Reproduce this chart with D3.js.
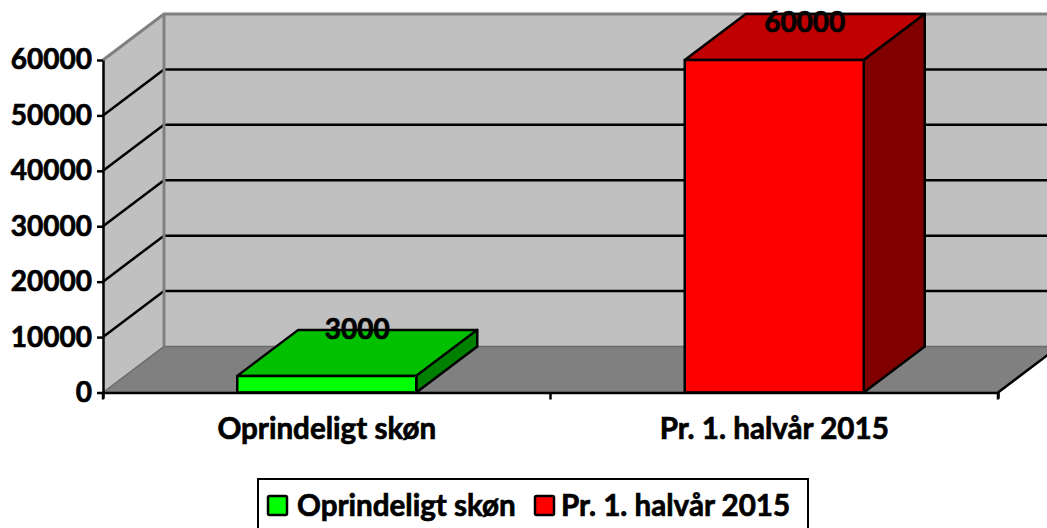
<!DOCTYPE html>
<html>
<head>
<meta charset="utf-8">
<script src="https://cdn.jsdelivr.net/npm/d3@7"></script>
<style>
  html, body { margin: 0; padding: 0; background: #fff; overflow: hidden; }
  text { font-family: Lato, "Open Sans", sans-serif; font-weight: 700; fill: #000; stroke: #000; stroke-width: 0.7px; }
</style>
</head>
<body>
<div id="chart"></div>
<script>
const categories = ['Oprindeligt skøn', 'Pr. 1. halvår 2015']
const values = [3000, 60000]
const yTicks = [0, 10000, 20000, 30000, 40000, 50000, 60000]

const frontColors = ['#00ff00', '#ff0000']
const topColors = ['#00c000', '#c00000']
const sideColors = ['#008000', '#800000']

const width = 1047
const height = 528
const plot = { left: 103, right: 998, top: 60, bottom: 392.5 }
// offset of the back wall from the front plane
const depth = { x: 61, y: -46 }
const numberSize = 28
const labelSize = 29.6

const svg = d3.select('#chart')
  .append('svg')
  .attr('width', width)
  .attr('height', height)
  .style('display', 'block')

const x = d3.scaleBand()
  .domain(categories)
  .range([plot.left, plot.right])
  .paddingInner(0.6)
  .paddingOuter(0.3)

const xAxisScale = d3.scaleBand()
  .domain(categories)
  .range([plot.left, plot.right])

const y = d3.scaleLinear()
  .domain([0, 60000])
  .range([plot.bottom, plot.top])

const poly = pts => pts.map(p => p.join(',')).join(' ')

// walls and floor
const backLeft = plot.left + depth.x
const backRight = plot.right + depth.x

svg.append('polygon')
  .attr('points', poly([
    [plot.left, plot.top], [backLeft, plot.top + depth.y],
    [backLeft, plot.bottom + depth.y], [plot.left, plot.bottom]
  ]))
  .attr('fill', '#c0c0c0')

svg.append('rect')
  .attr('x', backLeft)
  .attr('y', plot.top + depth.y)
  .attr('width', width - backLeft)
  .attr('height', plot.bottom - plot.top)
  .attr('fill', '#c0c0c0')

svg.append('polygon')
  .attr('points', poly([
    [plot.left, plot.bottom], [backLeft, plot.bottom + depth.y],
    [backRight, plot.bottom + depth.y], [plot.right, plot.bottom]
  ]))
  .attr('fill', '#808080')
  .attr('stroke', '#6a6a6a')
  .attr('stroke-width', 1.5)

// gridlines, skipping the top and bottom edges
const grid = svg.append('g')
  .attr('stroke', '#000')
  .attr('stroke-width', 2.5)
  .attr('fill', 'none')

yTicks.filter(t => t > 0 && t < 60000).forEach(t => {
  grid.append('polyline')
    .attr('points', poly([
      [plot.left, y(t)], [backLeft, y(t) + depth.y], [width, y(t) + depth.y]
    ]))
})

// wall edges
svg.append('polyline')
  .attr('points', poly([
    [plot.left, plot.top], [backLeft, plot.top + depth.y], [width, plot.top + depth.y]
  ]))
  .attr('fill', 'none')
  .attr('stroke', '#808080')
  .attr('stroke-width', 3)

svg.append('line')
  .attr('x1', backLeft)
  .attr('x2', backLeft)
  .attr('y1', plot.top + depth.y)
  .attr('y2', plot.bottom + depth.y)
  .attr('stroke', '#808080')
  .attr('stroke-width', 3)

svg.append('line')
  .attr('x1', plot.right)
  .attr('y1', plot.bottom)
  .attr('x2', backRight)
  .attr('y2', plot.bottom + depth.y)
  .attr('stroke', '#000')
  .attr('stroke-width', 2.5)

// bars
const bars = svg.append('g')
  .selectAll('g')
  .data(categories)
  .join('g')
  .attr('stroke', '#000')
  .attr('stroke-width', 2.5)
  .attr('stroke-linejoin', 'round')

bars.each(function (c, i) {
  const g = d3.select(this)
  const x0 = x(c)
  const x1 = x0 + x.bandwidth()
  const yTop = y(values[i])

  g.append('polygon')
    .attr('points', poly([
      [x0, yTop], [x0 + depth.x, yTop + depth.y],
      [x1 + depth.x, yTop + depth.y], [x1, yTop]
    ]))
    .attr('fill', topColors[i])

  g.append('polygon')
    .attr('points', poly([
      [x1, yTop], [x1 + depth.x, yTop + depth.y],
      [x1 + depth.x, plot.bottom + depth.y], [x1, plot.bottom]
    ]))
    .attr('fill', sideColors[i])

  g.append('rect')
    .attr('x', x0)
    .attr('y', yTop)
    .attr('width', x.bandwidth())
    .attr('height', plot.bottom - yTop)
    .attr('fill', frontColors[i])
})

// data labels sit on the back edge of the bar top, pushed down near the chart edge
svg.append('g')
  .selectAll('text')
  .data(categories)
  .join('text')
  .attr('x', c => x(c) + x.bandwidth() / 2 + depth.x / 2)
  .attr('y', (c, i) => Math.max(y(values[i]) + depth.y - 1, 22))
  .attr('dy', '0.36em')
  .attr('text-anchor', 'middle')
  .style('font-size', numberSize + 'px')
  .text((c, i) => values[i])

// axes
const yAxis = svg.append('g')
  .attr('transform', `translate(${plot.left},0)`)
  .call(d3.axisLeft(y).tickValues(yTicks).tickFormat(d3.format('d')).tickSize(6).tickSizeOuter(0).tickPadding(5))

const xAxis = svg.append('g')
  .attr('transform', `translate(0,${plot.bottom})`)
  .call(d3.axisBottom(xAxisScale).tickValues([]).tickSizeOuter(6))

// category ticks fall on the band edges
const xEdges = [plot.left, ...categories.map(c => xAxisScale(c) + xAxisScale.bandwidth())]
xAxis.selectAll('line.edge')
  .data(xEdges)
  .join('line')
  .attr('class', 'edge')
  .attr('x1', d => d)
  .attr('x2', d => d)
  .attr('y1', 0)
  .attr('y2', 7)
  .attr('stroke', '#000')
  .attr('stroke-width', 2.5)

xAxis.selectAll('text.cat')
  .data(categories)
  .join('text')
  .attr('class', 'cat')
  .attr('x', c => xAxisScale(c) + xAxisScale.bandwidth() / 2)
  .attr('y', 46)
  .attr('text-anchor', 'middle')
  .style('font-size', labelSize + 'px')
  .text(c => c)

svg.selectAll('.domain, .tick line')
  .attr('stroke', '#000')
  .attr('stroke-width', 2.5)
yAxis.selectAll('text').style('font-size', numberSize + 'px')

// legend
const legend = svg.append('g')
svg.append('rect')
  .attr('x', 258)
  .attr('y', 479)
  .attr('width', 550)
  .attr('height', 60)
  .attr('fill', '#fff')
  .attr('stroke', '#000')
  .attr('stroke-width', 2)
  .lower()

const legendSwatchX = [268, 535]
const legendTextX = [297, 561]

categories.forEach((c, i) => {
  legend.append('rect')
    .attr('x', legendSwatchX[i])
    .attr('y', 496)
    .attr('width', 19)
    .attr('height', 19)
    .attr('rx', 1.5)
    .attr('fill', frontColors[i])
    .attr('stroke', '#000')
    .attr('stroke-width', 2.5)
  legend.append('text')
    .attr('x', legendTextX[i])
    .attr('y', 516)
    .style('font-size', labelSize + 'px')
    .text(c)
})
</script>
</body>
</html>
